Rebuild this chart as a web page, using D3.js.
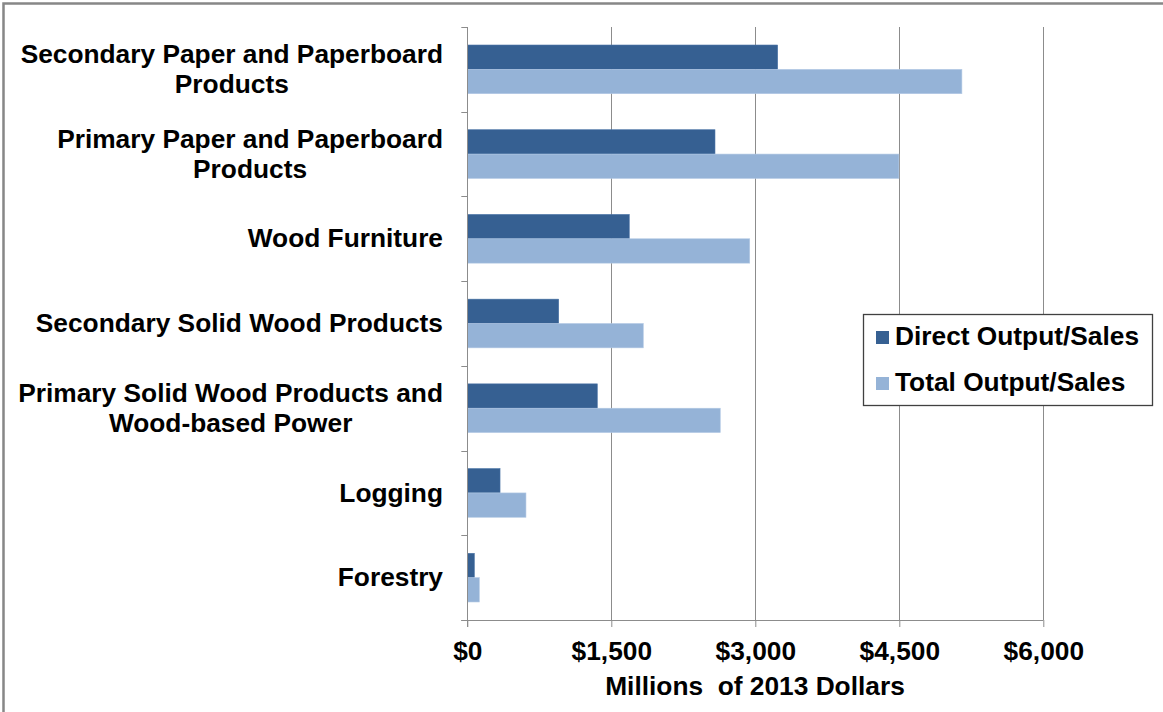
<!DOCTYPE html>
<html><head><meta charset="utf-8">
<script src="https://cdn.jsdelivr.net/npm/d3@7"></script>
<style>body{margin:0;background:#fff}svg{display:block}text{font-family:"Liberation Sans",Arial,sans-serif;font-weight:bold;fill:#000}</style>
</head><body><svg id="c" width="1163" height="712"></svg>
<script>
const categories = [
  ["Secondary Paper and Paperboard","Products"],
  ["Primary Paper and Paperboard","Products"],
  ["Wood Furniture"],
  ["Secondary Solid Wood Products"],
  ["Primary Solid Wood Products and","Wood-based Power"],
  ["Logging"],
  ["Forestry"]
];
const directValues = [3233, 2580, 1687, 952, 1354, 341, 73];
const totalValues  = [5152, 4496, 2942, 1833, 2635, 611, 125];
const seriesNames = ["Direct Output/Sales", "Total Output/Sales"];
const xTicks = [0, 1500, 3000, 4500, 6000];
const xTickLabels = ["$0", "$1,500", "$3,000", "$4,500", "$6,000"];
const axisTitle = "Millions  of 2013 Dollars";

const FS = 26.3;
const colors = ["#366092", "#95B3D7"];
const svg = d3.select("#c");
const L = 467.3, R = 1043.3, T = 27, B = 620;
const x = d3.scaleLinear().domain([0, 6000]).range([L, R]);
const ids = categories.map((d, i) => i);
const y = d3.scaleBand().domain(ids).range([T, B]).paddingInner(0).paddingOuter(0);
const inner = d3.scaleBand().domain([0, 1]).range([0, y.bandwidth()]).paddingOuter(0.74).paddingInner(0);

// outer frame
svg.append("rect").attr("x", 3.5).attr("y", 3.5).attr("width", 1200).attr("height", 800)
  .attr("fill", "none").attr("stroke", "#878787").attr("stroke-width", 2.5);

// gridlines
svg.append("g").selectAll("line").data(xTicks.slice(1)).join("line")
  .attr("x1", d => Math.round(x(d)) + 0.5).attr("x2", d => Math.round(x(d)) + 0.5)
  .attr("y1", T).attr("y2", B).attr("stroke", "#8c8c8c").attr("stroke-width", 1);

// bars
const series = [directValues, totalValues];
series.forEach((vals, s) => {
  svg.append("g").selectAll("rect").data(vals).join("rect")
    .attr("x", x(0))
    .attr("y", (d, i) => y(i) + inner(s))
    .attr("width", d => x(d) - x(0))
    .attr("height", inner.bandwidth())
    .attr("fill", colors[s])
    .attr("stroke", s === 0 ? "#4a73a6" : "#b3c9e4").attr("stroke-width", 0.6);
});

// x axis
const xAxis = d3.axisBottom(x).tickValues(xTicks).tickFormat((d, i) => xTickLabels[i]).tickSize(7).tickSizeOuter(0);
const gx = svg.append("g").attr("transform", `translate(0,${B})`).call(xAxis);
gx.select(".domain").attr("stroke", "#8c8c8c").attr("d", `M${L-6},0.5H${R}`);
gx.selectAll(".tick line").attr("stroke", "#8c8c8c");
gx.selectAll(".tick text").attr("font-size", FS).attr("font-family", '"Liberation Sans",Arial,sans-serif')
  .attr("font-weight", "bold").attr("fill", "#000").attr("dy", 0).attr("y", 40);

// y axis ticks (band boundaries)
const yb = d3.range(categories.length + 1).map(i => T + i * y.bandwidth());
svg.append("line").attr("x1", Math.round(L) + 0.5).attr("x2", Math.round(L) + 0.5).attr("y1", T).attr("y2", B + 7).attr("stroke", "#8c8c8c");
svg.append("g").selectAll("line").data(yb).join("line")
  .attr("x1", L - 6).attr("x2", L).attr("y1", d => Math.round(d) + 0.5).attr("y2", d => Math.round(d) + 0.5)
  .attr("stroke", "#8c8c8c");

// category labels: lines centered, block right-aligned
const lh = 30;
categories.forEach((lines, i) => {
  const cy = y(i) + y.bandwidth() / 2;
  const g = svg.append("g");
  const texts = lines.map((t, k) => g.append("text").attr("font-size", FS).attr("text-anchor", "middle")
    .attr("y", cy + (k - (lines.length - 1) / 2) * lh + 8.7).text(t));
  const widths = texts.map(t => t.node().getComputedTextLength());
  const maxW = d3.max(widths);
  const cx = 443 - maxW / 2;
  texts.forEach(t => t.attr("x", cx));
});

// axis title
svg.append("text").attr("x", 755).attr("y", 695).attr("text-anchor", "middle").attr("font-size", FS)
  .attr("xml:space", "preserve").style("white-space", "pre").text(axisTitle);

// legend
const lg = svg.append("g");
lg.append("rect").attr("x", 863.5).attr("y", 314.5).attr("width", 289).attr("height", 91)
  .attr("fill", "#fff").attr("stroke", "#404040").attr("stroke-width", 1.3);
seriesNames.forEach((n, k) => {
  lg.append("rect").attr("x", 876).attr("y", 331 + k * 46).attr("width", 13).attr("height", 13).attr("fill", colors[k]);
  lg.append("text").attr("x", 895).attr("y", 345 + k * 45.7).attr("font-size", FS).text(n);
});
</script></body></html>
